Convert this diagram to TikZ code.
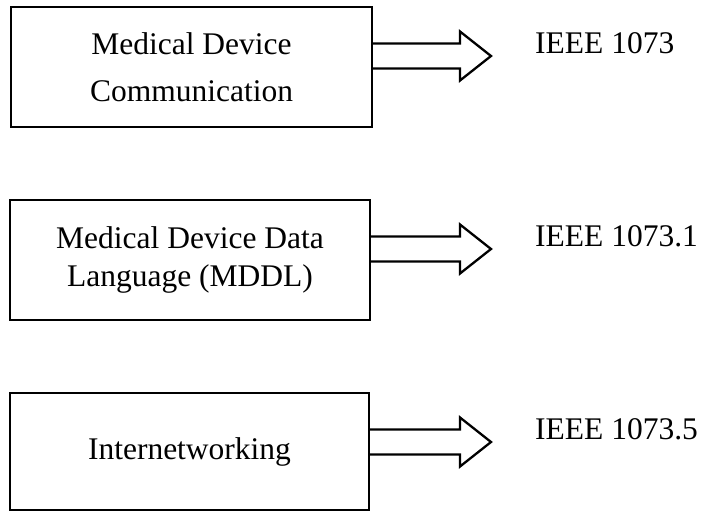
\documentclass[tikz,border=0pt]{standalone}
\usepackage{fontspec}
\setmainfont{Liberation Serif}
\usetikzlibrary{calc}
\tikzset{
  boxnode/.style={draw, line width=2.3pt, align=center, inner sep=0pt},
  lbl/.style={anchor=base west, inner sep=0pt, font=\fontsize{31.5}{36}\selectfont},
  barrow/.style={draw, line width=2.3pt, line join=miter}
}
\newcommand{\blockarrow}[2]{%
  \draw[barrow] ($(#1.east |- #2)+(0,12.5pt)$) -- ($(#2)+(-31pt,12.5pt)$) -- ($(#2)+(-31pt,24.5pt)$) -- (#2)
    -- ($(#2)+(-31pt,-24.5pt)$) -- ($(#2)+(-31pt,-12.5pt)$) -- ($(#1.east |- #2)+(0,-12.5pt)$);%
}
\begin{document}
\begin{tikzpicture}[x=1pt,y=-1pt]
\useasboundingbox (0,0) rectangle (701,512);
\node[boxnode, minimum width=361pt, minimum height=120pt, font=\fontsize{31.5}{47}\selectfont] (b1) at (191.5,67) {Medical Device\\Communication};
\node[boxnode, minimum width=360pt, minimum height=120pt, font=\fontsize{31.5}{38}\selectfont] (b2) at (190,260) {Medical Device Data\\Language (MDDL)};
\node[boxnode, minimum width=359pt, minimum height=117pt, font=\fontsize{31.5}{38}\selectfont] (b3) at (189.5,451.5) {Internetworking};
\coordinate (t1) at (491,56);
\coordinate (t2) at (491,249);
\coordinate (t3) at (491,442);
\blockarrow{b1}{t1}
\blockarrow{b2}{t2}
\blockarrow{b3}{t3}
\node[lbl] (l1) at (535,53) {IEEE 1073};
\node[lbl] (l2) at (535,246) {IEEE 1073.1};
\node[lbl] (l3) at (535,439) {IEEE 1073.5};
\end{tikzpicture}
\end{document}
